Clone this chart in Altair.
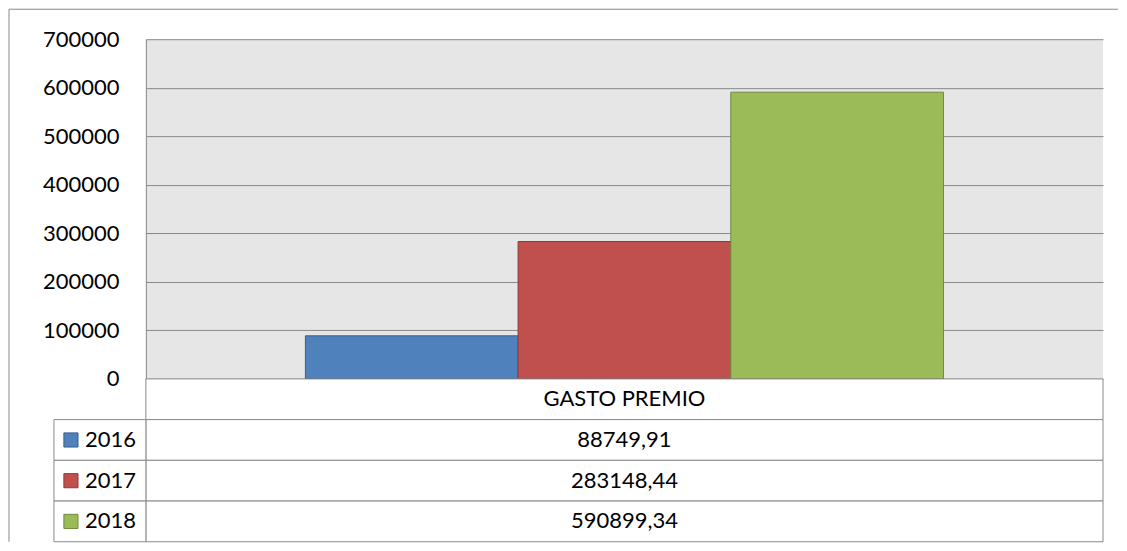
import altair as alt
import pandas as pd

# ---- data ----
category = "GASTO PREMIO"
years = ["2016", "2017", "2018"]
values = [88749.91, 283148.44, 590899.34]
value_labels = ["88749,91", "283148,44", "590899,34"]
fill_colors = ["#4F81BD", "#C0504D", "#9BBB59"]
stroke_colors = ["#385D8A", "#8C3836", "#71893F"]
y_ticks = [0, 100000, 200000, 300000, 400000, 500000, 600000, 700000]

FONT = "Lato"
FS = 22
GRID = "#898989"

bars_df = pd.DataFrame({"cat": [category] * len(years), "year": years, "value": values})
table_df = pd.DataFrame({
    "row": [category] + years,
    "col": [category] * (len(years) + 1),
    "label": [category] + value_labels,
})
legend_df = pd.DataFrame({"row": years, "year": years})
one_df = pd.DataFrame({"k": [0]})

W, H = 958, 340
TH = 163

color_scale = alt.Scale(domain=years, range=fill_colors)
stroke_scale = alt.Scale(domain=years, range=stroke_colors)

# ---- top: bar chart ----
bars = alt.Chart(bars_df).mark_bar(strokeWidth=1).encode(
    x=alt.X("cat:N", axis=None, scale=alt.Scale(paddingInner=0, paddingOuter=0.25)),
    xOffset=alt.XOffset("year:N", sort=years, scale=alt.Scale(paddingInner=0, paddingOuter=0)),
    y=alt.Y("value:Q",
            scale=alt.Scale(domain=[0, 700000], nice=False),
            axis=alt.Axis(values=y_ticks, title=None, grid=True, gridColor=GRID, gridWidth=1,
                          domain=True, domainColor=GRID, domainWidth=1, ticks=False,
                          labelPadding=27, labelFont=FONT, labelFontSize=FS, labelColor="#000000",
                          format="d")),
    color=alt.Color("year:N", scale=color_scale, legend=None),
    stroke=alt.Stroke("year:N", scale=stroke_scale, legend=None),
)

# outer chart-area border (Excel style)
border_left = alt.Chart(one_df).mark_rule(color=GRID, strokeWidth=1).encode(
    x=alt.value(-137), y=alt.value(-30), y2=alt.value(H + TH)
)
border_top = alt.Chart(one_df).mark_rule(color=GRID, strokeWidth=1).encode(
    x=alt.value(-137), x2=alt.value(973), y=alt.value(-30)
)

top = alt.layer(bars, border_left, border_top).properties(
    width=W, height=H, view=alt.ViewBackground(fill="#E6E6E6", stroke=None)
)

# ---- bottom: data table ----
row_scale = alt.Scale(domain=[category] + years, paddingInner=0, paddingOuter=0)
col_scale = alt.Scale(domain=[category], paddingInner=0, paddingOuter=0)

cells = alt.Chart(table_df).mark_rect(fill="white", stroke=GRID, strokeWidth=1).encode(
    x=alt.X("col:N", axis=None, scale=col_scale),
    y=alt.Y("row:N", axis=None, scale=row_scale),
)
cell_text = alt.Chart(table_df).mark_text(font=FONT, fontSize=FS, color="#000000",
                                          align="center", baseline="middle").encode(
    x=alt.X("col:N", axis=None, scale=col_scale),
    y=alt.Y("row:N", axis=None, scale=row_scale),
    text="label:N",
)
legend_cells = alt.Chart(legend_df).mark_rect(fill="white", stroke=GRID, strokeWidth=1).encode(
    x=alt.value(-92), x2=alt.value(0),
    y=alt.Y("row:N", axis=None, scale=row_scale),
)
swatches = alt.Chart(legend_df).mark_point(shape="square", filled=True, size=200,
                                           strokeWidth=1, opacity=1).encode(
    x=alt.value(-75),
    y=alt.Y("row:N", axis=None, scale=row_scale),
    fill=alt.Fill("year:N", scale=color_scale, legend=None),
    stroke=alt.Stroke("year:N", scale=stroke_scale, legend=None),
)
legend_text = alt.Chart(legend_df).mark_text(font=FONT, fontSize=FS, color="#000000",
                                             align="left", baseline="middle").encode(
    x=alt.value(-61),
    y=alt.Y("row:N", axis=None, scale=row_scale),
    text="year:N",
)

bottom = alt.layer(cells, cell_text, legend_cells, swatches, legend_text).properties(
    width=W, height=TH
)

chart = alt.vconcat(top, bottom, spacing=0, bounds="flush").resolve_scale(
    color="independent", stroke="independent", fill="independent"
).properties(
    padding={"left": 0, "top": 0, "right": 0, "bottom": 0}
).configure_view(stroke=None)

chart.save("out.html", embed_options={"renderer": "svg", "actions": False})
